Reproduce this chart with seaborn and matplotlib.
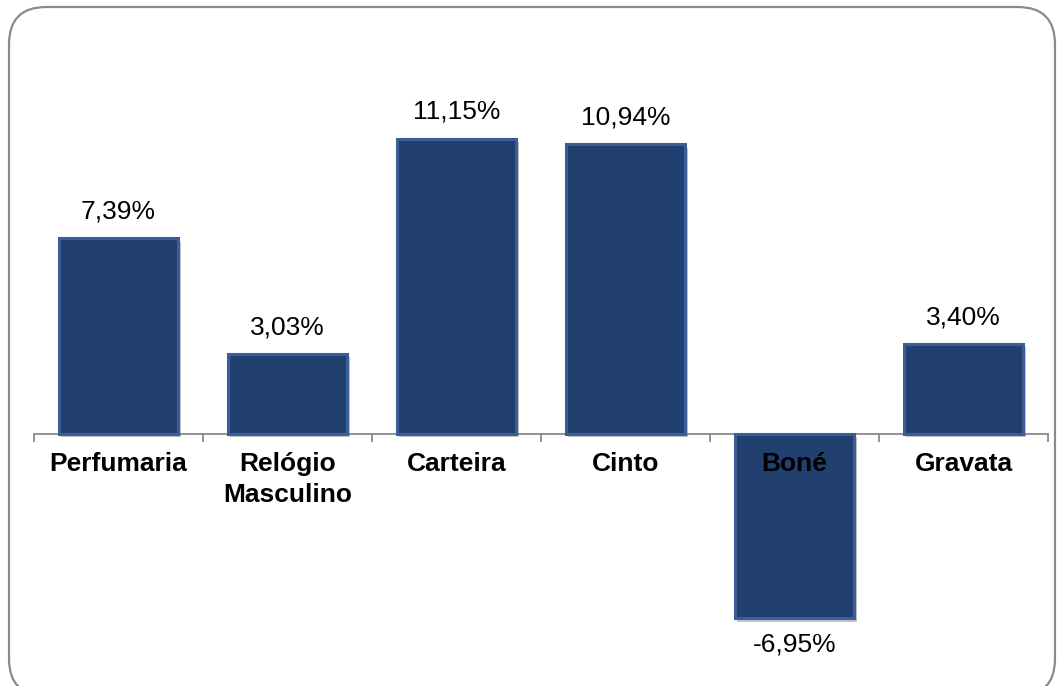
import matplotlib
matplotlib.use("Agg")
import matplotlib.pyplot as plt
import matplotlib.patheffects as pe
from matplotlib.patches import FancyBboxPatch
import seaborn as sns
import pandas as pd

categorias = ["Perfumaria", "Relógio\nMasculino", "Carteira", "Cinto", "Boné", "Gravata"]
variacao = [7.39, 3.03, 11.15, 10.94, -6.95, 3.40]

sns.set_theme(style="white")
plt.rcParams["font.family"] = ["Liberation Sans", "DejaVu Sans"]

W, H = 1064, 686
fig = plt.figure(figsize=(W / 100, H / 100), dpi=100)
fig.patch.set_facecolor("white")

# rounded frame around the chart area
frame = FancyBboxPatch((9 / W, -10 / H), (W - 18) / W, (H + 3) / H,
                       boxstyle="round,pad=0,rounding_size=0.035",
                       transform=fig.transFigure, facecolor="none",
                       edgecolor="#8a8a8a", linewidth=1.6, clip_on=False,
                       mutation_aspect=W / H)
fig.patches.append(frame)

ymin, ymax = -9.0, 13.0
ppu = 26.5
y0 = 434
top_px = y0 - ppu * ymax
bot_px = y0 - ppu * ymin
ax = fig.add_axes([34 / W, 1 - bot_px / H, (1048 - 34) / W, (bot_px - top_px) / H])
ax.set_facecolor("none")
ax.set_axisbelow(False)

df = pd.DataFrame({"categoria": categorias, "variacao": variacao})
sns.barplot(data=df, x="categoria", y="variacao", ax=ax, width=0.71,
            color="#213F6F", saturation=1)

for bar in ax.patches:
    bar.set_edgecolor("#3A5E96")
    bar.set_linewidth(2.2)
    bar.set_zorder(1)
    bar.set_path_effects([pe.SimplePatchShadow(offset=(1.5, -2.5), alpha=0.35,
                                               shadow_rgbFace="#555555"),
                          pe.Normal()])

ax.set_ylim(ymin, ymax)
ax.set_xlim(-0.5, len(categorias) - 0.5)
ax.set_xlabel("")
ax.set_ylabel("")
ax.set_yticks([])

for side in ["top", "right", "left"]:
    ax.spines[side].set_visible(False)
ax.spines["bottom"].set_position(("data", 0))
ax.spines["bottom"].set_color("#8a8a8a")
ax.spines["bottom"].set_linewidth(1.3)
ax.spines["bottom"].set_zorder(0.5)

ax.set_xticks(range(len(categorias)))
ax.set_xticklabels(categorias, fontsize=19, fontweight="bold", color="black",
                   linespacing=1.35)
ax.tick_params(axis="x", which="major", bottom=True, length=0, pad=13)
ax.set_xticks([i - 0.5 for i in range(len(categorias) + 1)], minor=True)
ax.tick_params(axis="x", which="minor", bottom=True, length=6, width=1.3,
               color="#8a8a8a", direction="out")

rotulos = [f"{v:.2f}%".replace(".", ",") for v in variacao]
ax.bar_label(ax.containers[0], labels=rotulos, padding=10.5, fontsize=19,
             color="black")

fig.savefig("out.png", dpi=100, facecolor="white")
